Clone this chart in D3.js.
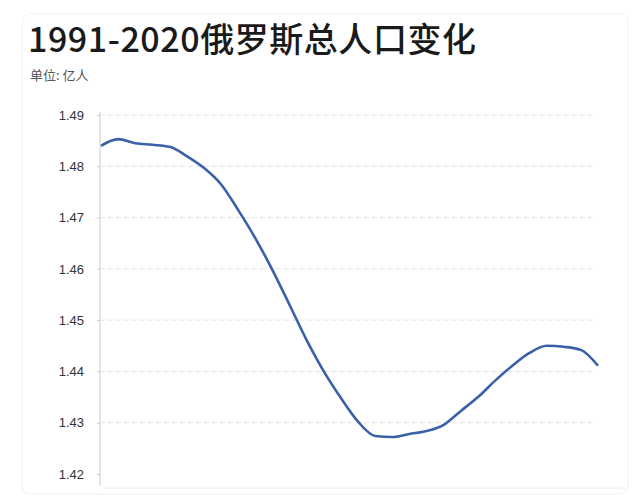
<!DOCTYPE html>
<html><head><meta charset="utf-8">
<script src="https://cdn.jsdelivr.net/npm/d3@7"></script>
<style>body{margin:0;background:#fff;font-family:"Noto Sans CJK SC","Noto Sans",sans-serif}</style>
</head><body>
<svg width="634" height="500"></svg>
<script>
'use strict';
const years = d3.range(1991, 2021)
const pop = [1.4840,1.4853,1.4845,1.4842,1.4838,1.4820,1.4797,1.4765,1.4715,1.4660,
	1.4598,1.4530,1.4461,1.4400,1.4348,1.4302,1.4274,1.4272,1.4278,1.4284,
	1.4296,1.4323,1.4350,1.4382,1.4411,1.4436,1.4450,1.4448,1.4442,1.4411]
const yTicks = [1.42,1.43,1.44,1.45,1.46,1.47,1.48,1.49]

let svg = d3.select("svg")
svg.append("rect").attr("x",22).attr("y",14).attr("width",606).attr("height",480)
	.attr("rx",8).attr("fill","#fff").attr("stroke","#f0f0f0")

svg.append("text").attr("x",28).attr("y",52).attr("font-size",34).attr("font-weight",500)
	.attr("fill","#1a1a1a").attr("textLength",448).text("1991-2020俄罗斯总人口变化")
svg.append("text").attr("x",30).attr("y",80).attr("font-size",13).attr("fill","#555").text("单位: 亿人")

let x = d3.scaleLinear().domain([1991,2020]).range([101,598])
let y = d3.scaleLinear().domain([1.42,1.49]).range([474,115])

// grid
svg.append("g").selectAll("line").data(yTicks.slice(1)).join("line")
	.attr("x1",100).attr("x2",595)
	.attr("y1",d=>y(d)).attr("y2",d=>y(d))
	.attr("stroke","#e4e4e4").attr("stroke-dasharray","5,3")

// axis
let gy = svg.append("g").attr("transform","translate(100,0)")
	.call(d3.axisLeft(y).tickValues(yTicks).tickFormat(d3.format(".2f")).tickSize(3))
gy.select(".domain").attr("stroke","#ccc").attr("d","M0,112V486")
gy.selectAll(".tick line").attr("stroke","#ccc")
gy.selectAll("text").attr("font-size",13).attr("fill","#333")
	.attr("font-family","Liberation Sans, Arial, sans-serif").attr("x",-16)

svg.append("line").attr("x1",100).attr("x2",628).attr("y1",488).attr("y2",488).attr("stroke","#f0f0f0")

svg.append("path").datum(pop)
	.attr("fill","none").attr("stroke","#3a60a8").attr("stroke-width",2.6)
	.attr("d", d3.line().x((d,i)=>x(years[i])).y(d=>y(d)).curve(d3.curveMonotoneX))
</script>
</body></html>
